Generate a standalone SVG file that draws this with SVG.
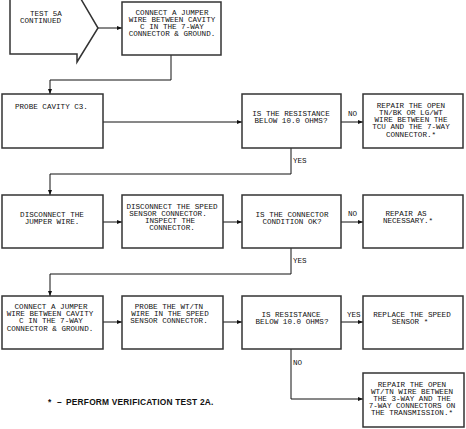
<svg xmlns="http://www.w3.org/2000/svg" width="466" height="429" viewBox="0 0 466 429">
<style>
.box{fill:#fff;stroke:#333;stroke-width:1.5}
.t{font-family:"Liberation Mono",monospace;font-size:7.6px;fill:#111;text-anchor:middle}
.l{font-family:"Liberation Mono",monospace;font-size:7.6px;fill:#111}
.c{fill:none;stroke:#111;stroke-width:1}
.fn{font-family:"Liberation Sans",Arial,sans-serif;font-size:8.4px;font-weight:bold;fill:#111;letter-spacing:0.2px}
</style>
<defs>
<marker id="ah" markerWidth="6" markerHeight="6" refX="5" refY="3" orient="auto" markerUnits="userSpaceOnUse">
<path d="M0,1 L5,3 L0,5 Z" fill="#111"/>
</marker>
</defs>
<rect width="466" height="429" fill="#fff"/>
<g id="connectors">
<line class="c" x1="98" y1="28" x2="122" y2="28" marker-end="url(#ah)"/>
<polyline class="c" points="171,55 171,80 50,80 50,94" marker-end="url(#ah)"/>
<line class="c" x1="103" y1="122" x2="242" y2="122" marker-end="url(#ah)"/>
<line class="c" x1="341" y1="122" x2="363" y2="122" marker-end="url(#ah)"/>
<polyline class="c" points="291,148 291,174 50,174 50,195" marker-end="url(#ah)"/>
<line class="c" x1="103" y1="222" x2="122" y2="222" marker-end="url(#ah)"/>
<line class="c" x1="223" y1="222" x2="242" y2="222" marker-end="url(#ah)"/>
<line class="c" x1="341" y1="222" x2="363" y2="222" marker-end="url(#ah)"/>
<polyline class="c" points="291,248 291,274 50,274 50,296" marker-end="url(#ah)"/>
<line class="c" x1="103" y1="322" x2="122" y2="322" marker-end="url(#ah)"/>
<line class="c" x1="223" y1="322" x2="242" y2="322" marker-end="url(#ah)"/>
<line class="c" x1="341" y1="322" x2="363" y2="322" marker-end="url(#ah)"/>
<polyline class="c" points="291,349 291,399 363,399" marker-end="url(#ah)"/>
<text class="l" x="348" y="115.5">NO</text>
<text class="l" x="293" y="162.5">YES</text>
<text class="l" x="348" y="215.5">NO</text>
<text class="l" x="293" y="262.5">YES</text>
<text class="l" x="347" y="316.5">YES</text>
<text class="l" x="293" y="364.5">NO</text>
</g>
<g id="start">
<path class="box" d="M10,-6 V54 H77 V62 L98,28 L78,-6 Z"/>
<text class="l" x="30" y="15.5">TEST 5A</text>
<text class="l" x="20" y="22.5">CONTINUED</text>
</g>
<g id="connect1">
<rect class="box" x="122" y="2" width="99" height="53"/>
<text class="t" x="172" y="14.5">CONNECT A JUMPER</text>
<text class="t" x="172" y="21.8">WIRE BETWEEN CAVITY</text>
<text class="t" x="172" y="29.1">C IN THE 7-WAY</text>
<text class="t" x="172" y="36.4">CONNECTOR &amp; GROUND.</text>
</g>
<g id="probe1">
<rect class="box" x="2" y="94" width="101" height="54"/>
<text class="l" x="15" y="108.5">PROBE CAVITY C3.</text>
</g>
<g id="dec1">
<rect class="box" x="242" y="94" width="99" height="54"/>
<text class="t" x="291" y="115.5">IS THE RESISTANCE</text>
<text class="t" x="291" y="123.3">BELOW 10.0 OHMS?</text>
</g>
<g id="repair1">
<rect class="box" x="363" y="94" width="100" height="54"/>
<text class="t" x="411" y="107.5">REPAIR THE OPEN</text>
<text class="t" x="411" y="114.8">TN/BK OR LG/WT</text>
<text class="t" x="411" y="122.1">WIRE BETWEEN THE</text>
<text class="t" x="411" y="129.4">TCU AND THE 7-WAY</text>
<text class="t" x="411" y="136.7">CONNECTOR.*</text>
</g>
<g id="disc1">
<rect class="box" x="2" y="195" width="101" height="53"/>
<text class="t" x="52" y="216.5">DISCONNECT THE</text>
<text class="t" x="52" y="223.8">JUMPER WIRE.</text>
</g>
<g id="disc2">
<rect class="box" x="122" y="195" width="101" height="53"/>
<text class="t" x="172" y="208.5">DISCONNECT THE SPEED</text>
<text class="t" x="168" y="215.8">SENSOR CONNECTOR.</text>
<text class="t" x="170" y="223.1">INSPECT THE</text>
<text class="t" x="172" y="230.4">CONNECTOR.</text>
</g>
<g id="dec2">
<rect class="box" x="242" y="195" width="99" height="53"/>
<text class="t" x="292" y="216.5">IS THE CONNECTOR</text>
<text class="t" x="292" y="223.8">CONDITION OK?</text>
</g>
<g id="repair2">
<rect class="box" x="363" y="195" width="100" height="53"/>
<text class="t" x="406" y="215.5">REPAIR AS</text>
<text class="t" x="408" y="222.8">NECESSARY.*</text>
</g>
<g id="connect2">
<rect class="box" x="2" y="296" width="101" height="53"/>
<text class="t" x="51" y="308.5">CONNECT A JUMPER</text>
<text class="t" x="50" y="315.9">WIRE BETWEEN CAVITY</text>
<text class="t" x="51" y="323.3">C IN THE 7-WAY</text>
<text class="t" x="50" y="330.7">CONNECTOR &amp; GROUND.</text>
</g>
<g id="probe2">
<rect class="box" x="122" y="296" width="101" height="53"/>
<text class="t" x="169" y="308.5">PROBE THE WT/TN</text>
<text class="t" x="170" y="315.9">WIRE IN THE SPEED</text>
<text class="t" x="169" y="323.3">SENSOR CONNECTOR.</text>
</g>
<g id="dec3">
<rect class="box" x="242" y="296" width="99" height="53"/>
<text class="t" x="291" y="316.5">IS RESISTANCE</text>
<text class="t" x="292" y="323.8">BELOW 10.0 OHMS?</text>
</g>
<g id="replace">
<rect class="box" x="363" y="296" width="100" height="53"/>
<text class="t" x="412" y="316.5">REPLACE THE SPEED</text>
<text class="t" x="410" y="323.8">SENSOR *</text>
</g>
<g id="repair3">
<rect class="box" x="363" y="373" width="101" height="54"/>
<text class="t" x="412" y="386.5">REPAIR THE OPEN</text>
<text class="t" x="412" y="393.7">WT/TN WIRE BETWEEN</text>
<text class="t" x="412" y="400.9">THE 3-WAY AND THE</text>
<text class="t" x="412" y="408.1">7-WAY CONNECTORS ON</text>
<text class="t" x="412" y="415.3">THE TRANSMISSION.*</text>
</g>
<g id="footnote">
<text class="fn" y="405"><tspan x="48">*</tspan><tspan x="57">–</tspan><tspan x="66">PERFORM VERIFICATION TEST 2A.</tspan></text>
</g>
</svg>
